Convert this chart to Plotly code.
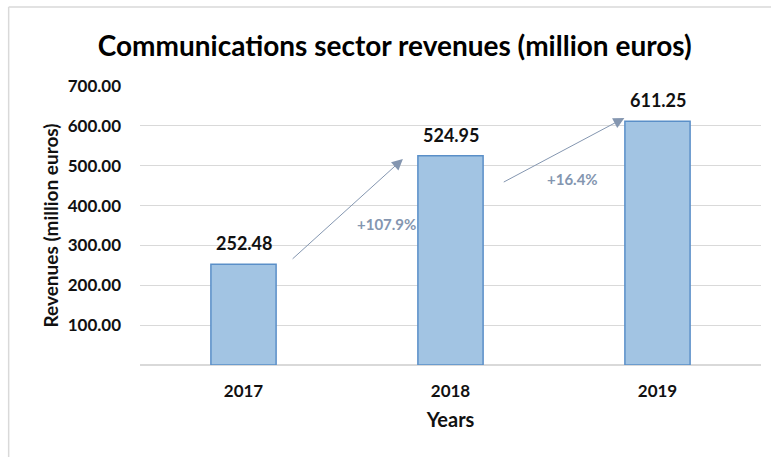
import plotly.graph_objects as go

# Revenue data
years = ["2017", "2018", "2019"]
revenues = [252.48, 524.95, 611.25]
growth_labels = ["+107.9%", "+16.4%"]

# Growth arrow endpoints (category index, value) and label positions
arrow_starts = [(0.23, 263), (1.25, 457)]
arrow_ends = [(0.77, 517), (1.84, 620)]
growth_text_pos = [(0.69, 354), (1.59, 467)]

FONT = "Lato"
BAR_FILL = "#A2C4E3"
BAR_LINE = "#5A8FC8"
ARROW_COLOR = "#8496B0"

fig = go.Figure()
fig.add_trace(go.Bar(
    x=list(range(len(years))),
    y=revenues,
    width=0.315,
    marker=dict(color=BAR_FILL, line=dict(color=BAR_LINE, width=1.5)),
    hoverinfo="skip",
))

annotations = []
# Value labels above each bar
for i, v in enumerate(revenues):
    annotations.append(dict(
        x=i, y=v, xref="x", yref="y", text=f"<b>{v:.2f}</b>",
        showarrow=False, yanchor="middle", yshift=21,
        font=dict(family=FONT, size=18, color="#111111"),
    ))
# Growth arrows
for (sx, sy), (ex, ey) in zip(arrow_starts, arrow_ends):
    annotations.append(dict(
        x=ex, y=ey, ax=sx, ay=sy, xref="x", yref="y", axref="x", ayref="y",
        text="", showarrow=True, arrowhead=2, arrowsize=2.2, arrowwidth=1,
        arrowcolor=ARROW_COLOR, standoff=0,
    ))
for (tx, ty), label in zip(growth_text_pos, growth_labels):
    annotations.append(dict(
        x=tx, y=ty, xref="x", yref="y", text=f"<b>{label}</b>", showarrow=False,
        font=dict(family=FONT, size=15, color=ARROW_COLOR),
    ))

fig.update_layout(
    width=771, height=457,
    margin=dict(l=140, r=10, t=86, b=92),
    paper_bgcolor="white", plot_bgcolor="white",
    showlegend=False,
    bargap=0.685,
    title=dict(
        text="<b>Communications sector revenues (million euros)</b>",
        x=0.512, xanchor="center", y=0.9, yanchor="middle",
        font=dict(family=FONT, size=28, color="#000000"),
    ),
    xaxis=dict(
        tickmode="array", tickvals=list(range(len(years))),
        ticktext=[f"<b>{y}</b>" for y in years],
        range=[-0.5, 2.5], showgrid=False, zeroline=False,
        showline=False, ticks="", ticklabelstandoff=14,
        tickfont=dict(family=FONT, size=17, color="#111111"),
        title=dict(text="<b>Years</b>", standoff=12,
                   font=dict(family=FONT, size=20, color="#111111")),
    ),
    yaxis=dict(
        range=[0, 700], tickvals=[100, 200, 300, 400, 500, 600, 700],
        ticktext=[f"<b>{v:.2f}</b>" for v in [100, 200, 300, 400, 500, 600, 700]],
        showgrid=True, gridcolor="#D9D9D9", gridwidth=1,
        zeroline=True, zerolinecolor="#D9D9D9", zerolinewidth=1.5,
        showline=False, ticks="", ticklabelstandoff=18,
        tickfont=dict(family=FONT, size=17, color="#111111"),
        title=dict(text="<b>Revenues (million euros)</b>", standoff=4,
                   font=dict(family=FONT, size=19, color="#111111")),
    ),
    annotations=annotations,
    shapes=[
        dict(type="line", xref="paper", yref="paper",
             x0=-0.2115, x1=1.02, y0=1.283, y1=1.283,
             line=dict(color="#D9D9D9", width=1.5)),
        dict(type="line", xref="paper", yref="paper",
             x0=-0.2115, x1=-0.2115, y0=1.283, y1=-0.35,
             line=dict(color="#D9D9D9", width=1.5)),
    ],
)

fig.write_html("out.html")
